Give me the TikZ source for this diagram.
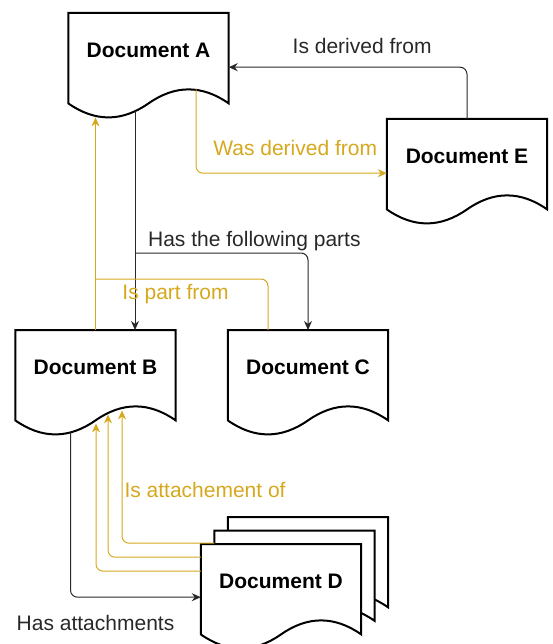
\documentclass[tikz,border=0pt]{standalone}
\usepackage{fontspec}
\setmainfont{Liberation Sans}
\usetikzlibrary{positioning}
\usetikzlibrary{arrows.meta}
\definecolor{gold}{RGB}{214,168,30}
\definecolor{ink}{RGB}{40,40,40}
% outline of a document shape around a (text-less) node
\newcommand{\docbody}[1]{%
  \path[docline] (#1.north west) -- (#1.north east) -- ([yshift=-16pt]#1.south east)
    .. controls +(-26.67pt,18.67pt) and +(26.67pt,18.67pt) .. ([yshift=-16pt]#1.south)
    .. controls +(-26.67pt,-18.67pt) and +(26.67pt,-18.67pt) .. ([yshift=-16pt]#1.south west)
    -- cycle;}

\begin{document}
\begin{tikzpicture}[
  x=1pt, y=-1pt,
  font=\fontsize{21}{25}\selectfont,
  page/.style={anchor=north, minimum width=160pt, minimum height=74pt, inner sep=0pt},
  docline/.style={draw=black, line width=2pt, fill=white, line join=miter},
  doctext/.style={font=\fontsize{21}{25}\selectfont\bfseries},
  lab/.style={inner sep=2pt, text=ink, anchor=base},
  glab/.style={lab, text=gold},
  ar/.style={-{Stealth[length=9pt,width=8pt]}, draw=ink, line width=1pt, rounded corners=7pt},
  gar/.style={ar, draw=gold},
  gline/.style={draw=gold, line width=1pt, rounded corners=7pt}
]
\useasboundingbox (0,0) rectangle (552,644);
% documents
\node[page] (A) at (148.5,13) {};
\node[page] (E) at (467,119) {};
\node[page] (B) at (95.5,330) {};
\node[page] (C) at (308,330) {};
\node[page] (D) at (281,544) {};
\node[page] (Dm) at ([xshift=13.5pt,yshift=13.5pt]D.north) {};
\node[page] (Db) at ([xshift=27pt,yshift=27pt]D.north) {};
\docbody{A} \docbody{E} \docbody{B} \docbody{C}
\docbody{Db} \docbody{Dm} \docbody{D}
\node[doctext] at (A) {Document A};
\node[doctext] at (E) {Document E};
\node[doctext] at (B) {Document B};
\node[doctext] at (C) {Document C};
\node[doctext] at (D) {Document D};

% A <-> E
\draw[ar] (E.north) |- ([yshift=-17pt]A.east)
  node[lab, pos=0.72, yshift=13.5pt] {Is derived from};
\draw[gar] ([xshift=47.5pt,yshift=-2pt]A.south) |- ([yshift=-17pt]E.west)
  node[glab, pos=0.76, yshift=17.5pt] {Was derived from};

% A -> B, C
\coordinate (ab) at ([xshift=-13.5pt,yshift=-24pt]A.south);
\draw[ar] (ab) -- ([xshift=39.5pt]B.north);
\draw[ar] (ab |- 0,253) -| (C.north)
  node[lab, pos=0.345, yshift=7pt] {Has the following parts};

% B, C -> A
\draw[gar] (B.north) -- ([xshift=-53pt,yshift=-30pt]A.south);
\draw[gline] ([xshift=-40pt]C.north) |- (B.north |- 0,279)
  node[glab, pos=0.768, yshift=-20pt] {Is part from};

% B <-> D
\draw[ar] ([xshift=-25pt,yshift=-28pt]B.south) |- ([yshift=-16pt]D.west)
  node[lab, pos=0.596, yshift=-33pt] {Has attachments};
\draw[gar] ([yshift=24.5pt]Dm.west) -| ([xshift=26.5pt,yshift=-6pt]B.south)
  node[glab, pos=0.673, anchor=base west] {Is attachement of};
\draw[gar] ([yshift=24pt]D.west) -| ([xshift=12.5pt,yshift=-10pt]B.south);
\draw[gar] ([yshift=10pt]D.west) -| ([xshift=0.5pt,yshift=-19pt]B.south);
\end{tikzpicture}
\end{document}
